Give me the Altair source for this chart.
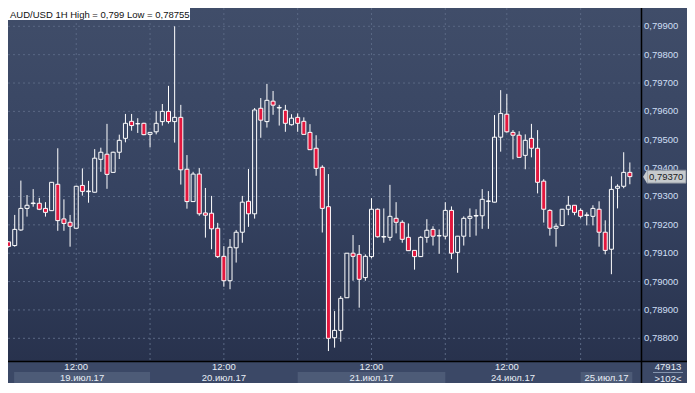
import altair as alt
import pandas as pd
import numpy as np

# ---------------- data ----------------
idx = list(range(102))
opens = [0.79140, 0.79127, 0.79182, 0.79258, 0.79275, 0.79276, 0.79258, 0.79250, 0.79343, 0.79221,
 0.79209, 0.79188, 0.79339, 0.79317, 0.79315, 0.79431, 0.79449, 0.79385, 0.79456, 0.79505,
 0.79565, 0.79556, 0.79558, 0.79519, 0.79528, 0.79564, 0.79600, 0.79564, 0.79579, 0.79396,
 0.79282, 0.79379, 0.79242, 0.79241, 0.79188, 0.79089, 0.79003, 0.79119, 0.79174, 0.79283,
 0.79239, 0.79611, 0.79564, 0.79636, 0.79612, 0.79604, 0.79553, 0.79579, 0.79565, 0.79526,
 0.79470, 0.79403, 0.79264, 0.78802, 0.78828, 0.78943, 0.79100, 0.79096, 0.79014, 0.79088,
 0.79255, 0.79157, 0.79156, 0.79223, 0.79209, 0.79156, 0.79110, 0.79088, 0.79156, 0.79184,
 0.79161, 0.79160, 0.79251, 0.79103, 0.79160, 0.79223, 0.79231, 0.79232, 0.79283, 0.79280,
 0.79509, 0.79590, 0.79526, 0.79516, 0.79445, 0.79505, 0.79470, 0.79354, 0.79251, 0.79188,
 0.79198, 0.79255, 0.79269, 0.79251, 0.79233, 0.79230, 0.79255, 0.79174, 0.79114, 0.79329,
 0.79336, 0.79385]
highs = [0.79143, 0.79235, 0.79356, 0.79305, 0.79326, 0.79295, 0.79280, 0.79351, 0.79470, 0.79290,
 0.79235, 0.79338, 0.79399, 0.79355, 0.79467, 0.79472, 0.79556, 0.79458, 0.79518, 0.79591,
 0.79591, 0.79576, 0.79560, 0.79527, 0.79601, 0.79626, 0.79690, 0.79900, 0.79623, 0.79446,
 0.79387, 0.79400, 0.79330, 0.79302, 0.79207, 0.79125, 0.79150, 0.79182, 0.79302, 0.79397,
 0.79612, 0.79647, 0.79697, 0.79672, 0.79623, 0.79623, 0.79590, 0.79593, 0.79579, 0.79555,
 0.79516, 0.79410, 0.79379, 0.78896, 0.78949, 0.79101, 0.79164, 0.79129, 0.79096, 0.79294,
 0.79258, 0.79258, 0.79341, 0.79280, 0.79216, 0.79205, 0.79111, 0.79160, 0.79220, 0.79195,
 0.79184, 0.79280, 0.79265, 0.79161, 0.79230, 0.79258, 0.79255, 0.79326, 0.79319, 0.79587,
 0.79675, 0.79661, 0.79534, 0.79530, 0.79519, 0.79556, 0.79534, 0.79361, 0.79255, 0.79205,
 0.79256, 0.79302, 0.79270, 0.79258, 0.79244, 0.79269, 0.79283, 0.79216, 0.79371, 0.79343,
 0.79456, 0.79420]
lows = [0.79120, 0.79123, 0.79179, 0.79229, 0.79264, 0.79252, 0.79229, 0.79249, 0.79179, 0.79179,
 0.79123, 0.79187, 0.79303, 0.79278, 0.79314, 0.79387, 0.79327, 0.79384, 0.79432, 0.79491,
 0.79532, 0.79524, 0.79516, 0.79473, 0.79519, 0.79550, 0.79557, 0.79490, 0.79342, 0.79257,
 0.79281, 0.79232, 0.79155, 0.79114, 0.79083, 0.78982, 0.78973, 0.79067, 0.79137, 0.79193,
 0.79222, 0.79507, 0.79543, 0.79588, 0.79550, 0.79528, 0.79550, 0.79528, 0.79518, 0.79464,
 0.79373, 0.79173, 0.78755, 0.78767, 0.78788, 0.78942, 0.79003, 0.78908, 0.79003, 0.79082,
 0.79155, 0.79137, 0.79144, 0.79170, 0.79137, 0.79108, 0.79042, 0.79087, 0.79137, 0.79127,
 0.79098, 0.79149, 0.79079, 0.79031, 0.79127, 0.79157, 0.79162, 0.79186, 0.79186, 0.79279,
 0.79458, 0.79525, 0.79431, 0.79437, 0.79396, 0.79438, 0.79311, 0.79208, 0.79162, 0.79123,
 0.79195, 0.79234, 0.79234, 0.79223, 0.79198, 0.79198, 0.79123, 0.79096, 0.79026, 0.79258,
 0.79329, 0.79343]
closes = [0.79124, 0.79184, 0.79258, 0.79269, 0.79277, 0.79255, 0.79244, 0.79350, 0.79215, 0.79205,
 0.79195, 0.79336, 0.79318, 0.79319, 0.79435, 0.79456, 0.79378, 0.79456, 0.79498, 0.79558,
 0.79550, 0.79557, 0.79518, 0.79526, 0.79558, 0.79600, 0.79564, 0.79579, 0.79394, 0.79282,
 0.79379, 0.79239, 0.79234, 0.79186, 0.79088, 0.79003, 0.79121, 0.79174, 0.79280, 0.79239,
 0.79605, 0.79569, 0.79639, 0.79622, 0.79614, 0.79558, 0.79576, 0.79558, 0.79519, 0.79465,
 0.79399, 0.79258, 0.78800, 0.78828, 0.78941, 0.79100, 0.79089, 0.79008, 0.79089, 0.79255,
 0.79158, 0.79159, 0.79230, 0.79209, 0.79149, 0.79109, 0.79088, 0.79156, 0.79181, 0.79160,
 0.79162, 0.79251, 0.79100, 0.79160, 0.79223, 0.79230, 0.79233, 0.79290, 0.79284, 0.79509,
 0.79593, 0.79528, 0.79516, 0.79438, 0.79498, 0.79470, 0.79350, 0.79255, 0.79188, 0.79195,
 0.79255, 0.79269, 0.79244, 0.79230, 0.79235, 0.79258, 0.79174, 0.79110, 0.79325, 0.79336,
 0.79385, 0.79370]

price_ticks = [0.788, 0.789, 0.790, 0.791, 0.792, 0.793, 0.794, 0.795, 0.796, 0.797, 0.798, 0.799]
price_labels = ["0,78800", "0,78900", "0,79000", "0,79100", "0,79200", "0,79300",
                "0,79400", "0,79500", "0,79600", "0,79700", "0,79800", "0,79900"]
grid_idx = [11, 23, 35, 47, 59, 71, 81, 93]
time_idx = [11, 35, 59, 81]
time_labels = ["12:00", "12:00", "12:00", "12:00"]
day_labels = ["19.июл.17", "20.июл.17", "21.июл.17", "24.июл.17", "25.июл.17"]
day_start = [0.9, 23, 47, 71, 93]
day_end = [23, 47, 71, 93, 101.4]
day_shaded = [True, False, True, False, True]
title_text = "AUD/USD 1H High = 0,799 Low = 0,78755"
last_price_label = "0,79370"
volume_text = "47913"
bars_text = ">102<"

# ---------------- layout ----------------
W, H = 633, 353
TW, TH = 679, 375
FONT = "Liberation Sans"
RED = "#e3173e"

df = pd.DataFrame({"i": idx, "open": opens, "high": highs, "low": lows, "close": closes})
df["top"] = df[["open", "close"]].max(axis=1)
df["bot"] = df[["open", "close"]].min(axis=1)
df["dir"] = np.where(df["close"] >= df["open"], "up", "down")

xs = alt.Scale(domain=[0.72, 102.0], nice=False, zero=False)
ys = alt.Scale(domain=[0.787200, 0.799645], nice=False, zero=False)

one = pd.DataFrame({"a": [1]})

bg = alt.Chart(one).mark_rect(
    fill=alt.Gradient(gradient="linear",
                      stops=[alt.GradientStop(color="#404d69", offset=0),
                             alt.GradientStop(color="#354260", offset=0.55),
                             alt.GradientStop(color="#28324d", offset=1)],
                      x1=0, x2=0, y1=0, y2=1)
).encode(x=alt.value(0), x2=alt.value(TW), y=alt.value(0), y2=alt.value(H))

bottom_panel = alt.Chart(one).mark_rect(fill="#3b4866").encode(
    x=alt.value(0), x2=alt.value(TW), y=alt.value(H), y2=alt.value(TH))

days = pd.DataFrame({"label": day_labels, "s": day_start, "e": day_end, "shade": day_shaded})
days["mid"] = (days["s"] + days["e"]) / 2
bands = alt.Chart(days).transform_filter("datum.shade").mark_rect(fill="#4d5b77").encode(
    x=alt.X("s:Q", scale=xs, axis=None), x2="e:Q", y=alt.value(364), y2=alt.value(TH))

hgrid = alt.Chart(pd.DataFrame({"v": price_ticks})).mark_rule(
    color="#5a6884", strokeDash=[2, 3], strokeWidth=1).encode(
    x=alt.value(0), x2=alt.value(W), y=alt.Y("v:Q", scale=ys, axis=None))

vgrid = alt.Chart(pd.DataFrame({"k": grid_idx})).mark_rule(
    color="#5a6884", strokeDash=[2, 3], strokeWidth=1).encode(
    x=alt.X("k:Q", scale=xs, axis=None), y=alt.value(0), y2=alt.value(H))

base = alt.Chart(df)
X = alt.X("i:Q", scale=xs, axis=None)
wick_hi = base.mark_rule(color="white", strokeWidth=1, clip=True).encode(
    x=X, y=alt.Y("high:Q", scale=ys, axis=None), y2="top:Q")
wick_lo = base.mark_rule(color="white", strokeWidth=1, clip=True).encode(
    x=X, y=alt.Y("bot:Q", scale=ys, axis=None), y2="low:Q")
body = base.mark_bar(size=4, stroke="white", strokeWidth=1, clip=True).encode(
    x=X, y=alt.Y("top:Q", scale=ys, axis=None), y2="bot:Q",
    fill=alt.Fill("dir:N", scale=alt.Scale(domain=["up", "down"], range=["transparent", RED]), legend=None))

ylabels = alt.Chart(pd.DataFrame({"v": price_ticks, "t": price_labels})).mark_text(
    align="left", baseline="middle", font=FONT, fontSize=9.5, color="#cfdff4").encode(
    x=alt.value(636), y=alt.Y("v:Q", scale=ys, axis=None), text="t:N")

tlabels = alt.Chart(pd.DataFrame({"k": time_idx, "t": time_labels})).mark_text(
    align="center", baseline="middle", font=FONT, fontSize=9.5, color="#e8eef6").encode(
    x=alt.X("k:Q", scale=xs, axis=None), y=alt.value(359), text="t:N")

dlabels = alt.Chart(days).mark_text(
    align="center", baseline="middle", font=FONT, fontSize=9.5, color="#e8eef6").encode(
    x=alt.X("mid:Q", scale=xs, axis=None), y=alt.value(370), text="label:N")

title_box = alt.Chart(one).mark_rect(fill="white").encode(
    x=alt.value(0), x2=alt.value(182), y=alt.value(0), y2=alt.value(12))
title = alt.Chart(pd.DataFrame({"t": [title_text]})).mark_text(
    align="left", baseline="middle", font=FONT, fontSize=9.5, color="#111111").encode(
    x=alt.value(2), y=alt.value(6.5), text="t:N")

last = pd.DataFrame({"v": [closes[-1]], "t": [last_price_label]})
pbox = alt.Chart(last).mark_rect(fill="#c6cacd", stroke="#7d8591", strokeWidth=0.8,
                                 yOffset=-6.5, y2Offset=6.5).encode(
    x=alt.value(639), x2=alt.value(TW - 1), y=alt.Y("v:Q", scale=ys, axis=None), y2="v:Q")
parrow = alt.Chart(last).mark_point(shape="M -0.3 0 L 0.31 -1 L 0.31 1 Z", size=169, filled=True,
                                    fill="#c6cacd", opacity=1, strokeWidth=0).encode(
    x=alt.value(637), y=alt.Y("v:Q", scale=ys, axis=None))
ptext = alt.Chart(last).mark_text(align="left", baseline="middle", font=FONT, fontSize=9.5,
                                  color="#1a1a1a").encode(
    x=alt.value(641), y=alt.Y("v:Q", scale=ys, axis=None), text="t:N")

vol = alt.Chart(pd.DataFrame({"t": [volume_text]})).mark_text(
    align="center", baseline="middle", font=FONT, fontSize=9.5, color="#e8eef6").encode(
    x=alt.value(660), y=alt.value(359), text="t:N")
volline = alt.Chart(one).mark_rule(color="#8594ad", strokeWidth=1).encode(
    x=alt.value(645), x2=alt.value(675), y=alt.value(364.5))
bars_t = alt.Chart(pd.DataFrame({"t": [bars_text]})).mark_text(
    align="center", baseline="middle", font=FONT, fontSize=9.5, color="#e8eef6").encode(
    x=alt.value(660), y=alt.value(370.5), text="t:N")

vline = alt.Chart(one).mark_rule(color="#000000", strokeWidth=1.5).encode(
    x=alt.value(W + 0.5), y=alt.value(0), y2=alt.value(TH))
hline = alt.Chart(one).mark_rule(color="#000000", strokeWidth=1.5).encode(
    x=alt.value(0), x2=alt.value(TW), y=alt.value(H + 0.5))

chart = alt.layer(
    bg, bottom_panel, bands, hgrid, vgrid, wick_hi, wick_lo, body,
    title_box, title, ylabels, pbox, parrow, ptext,
    tlabels, dlabels, vol, volline, bars_t, vline, hline
).properties(
    width=W, height=H,
    padding={"left": 0, "top": 0, "right": TW - W, "bottom": TH - H},
    autosize=alt.AutoSizeParams(type="none"),
    background="#3b4866",
).configure_view(strokeWidth=0)

chart.save("out.html", embed_options={"renderer": "svg", "actions": False})
